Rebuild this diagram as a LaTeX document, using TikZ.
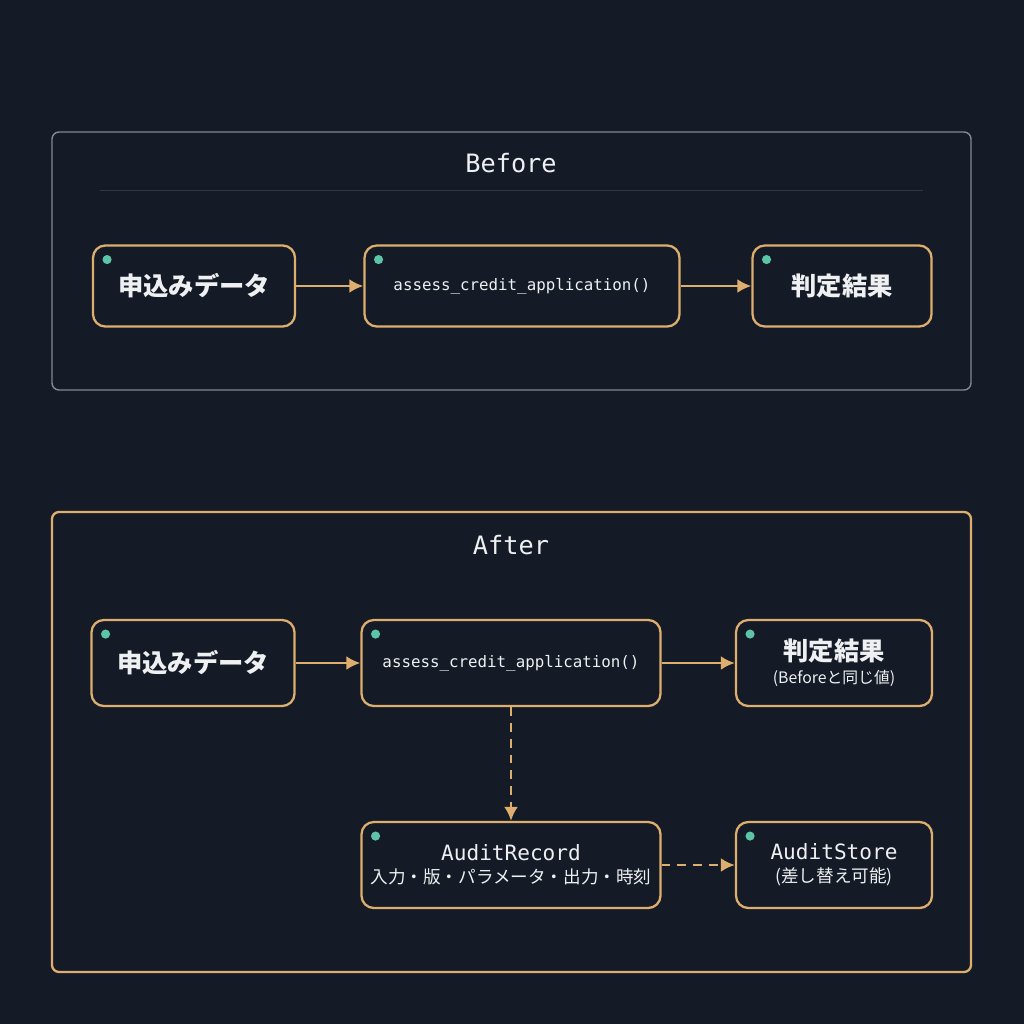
\documentclass[tikz,border=0pt]{standalone}
\usepackage{fontspec}
\setmonofont{DejaVu Sans Mono}
\newfontfamily\jpfont{Noto Sans CJK JP}
\usetikzlibrary{positioning,arrows.meta}
\definecolor{bgdark}{HTML}{141B26}
\definecolor{frameGray}{HTML}{7F8A96}
\definecolor{boxOrange}{HTML}{DDAE6E}
\definecolor{dotTeal}{HTML}{5EC4A8}
\definecolor{txtWhite}{HTML}{EEF0F2}

\begin{document}
\begin{tikzpicture}[x=0.02cm,y=-0.02cm,
            box/.style={draw=boxOrange, line width=1.3pt, rounded corners=7pt, fill=bgdark,
                text=txtWhite, align=center, inner sep=0pt,
                path picture={\fill[dotTeal] ([shift={(8pt,-8pt)}]path picture bounding box.north west) circle (2.6pt);}},
            flow/.style={draw=boxOrange, line width=1.5pt, -{Latex[length=8pt,width=8pt]}},
            audit/.style={flow, dash pattern=on 5pt off 4pt}]
        \fill[bgdark] (0,0) rectangle (1024,1024);
        \useasboundingbox (0,0) rectangle (1024,1024);

        % before
        \draw[frameGray, line width=0.8pt, rounded corners=4pt] (52,132) rectangle (971,390);
        \draw[frameGray!25!bgdark, line width=0.4pt] (100,190) -- (923,190);
        \node[text=txtWhite, font=\ttfamily\Large] (beforeTitle) at (511,163) {Before};

        \node[box, minimum width=202*0.02cm, minimum height=81*0.02cm, font=\jpfont\Large\bfseries] (bInput) at (194,286) {申込みデータ};
        \node[box, minimum width=315*0.02cm, minimum height=81*0.02cm, font=\ttfamily\small] (bAssess) at (522,286) {assess\_credit\_application()};
        \node[box, minimum width=179*0.02cm, minimum height=81*0.02cm, font=\jpfont\Large\bfseries] (bResult) at (842,286) {判定結果};
        \draw[flow] (bInput) -- (bAssess);
        \draw[flow] (bAssess) -- (bResult);

        % after
        \draw[boxOrange, line width=1.3pt, rounded corners=4pt] (52,512) rectangle (971,972);
        \node[text=txtWhite, font=\ttfamily\Large] (afterTitle) at (511,545) {After};

        \node[box, minimum width=203*0.02cm, minimum height=86*0.02cm, font=\jpfont\Large\bfseries] (aInput) at (193,663) {申込みデータ};
        \node[box, minimum width=299*0.02cm, minimum height=86*0.02cm, font=\ttfamily\small] (aAssess) at (511,663) {assess\_credit\_application()};
        \node[box, minimum width=196*0.02cm, minimum height=86*0.02cm] (aResult) at (834,663)
            {{\jpfont\Large\bfseries 判定結果}\\[1pt]{\jpfont\small (Beforeと同じ値)}};
        \node[box, minimum width=299*0.02cm, minimum height=86*0.02cm] (aRecord) at (511,865)
            {{\ttfamily\large AuditRecord}\\[1pt]{\jpfont 入力・版・パラメータ・出力・時刻}};
        \node[box, minimum width=196*0.02cm, minimum height=86*0.02cm] (aStore) at (834,865)
            {{\ttfamily\large AuditStore}\\[1pt]{\jpfont (差し替え可能)}};
        \draw[flow] (aInput) -- (aAssess);
        \draw[flow] (aAssess) -- (aResult);
        \draw[audit] (aAssess) -- (aRecord);
        \draw[audit] (aRecord) -- (aStore);
    \end{tikzpicture}
\end{document}
